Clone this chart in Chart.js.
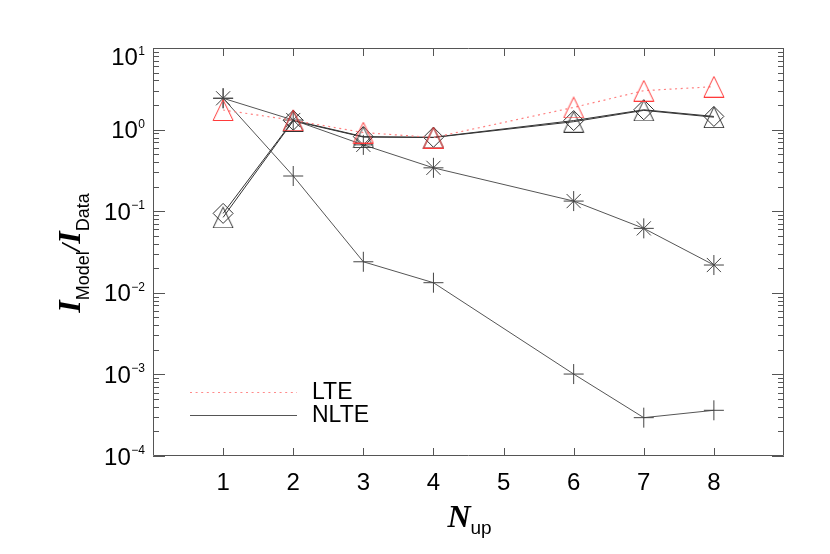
<!DOCTYPE html>
<html>
<head>
<meta charset="utf-8">
<script src="https://cdn.jsdelivr.net/npm/chart.js@4"></script>
<style>
html,body{margin:0;padding:0;background:#fff;}
#wrap{position:relative;width:830px;height:554px;}
canvas{position:absolute;left:0;top:0;}
</style>
</head>
<body>
<div id="wrap"><canvas id="c" width="830" height="554"></canvas></div>
<script>
// ---- data ----
const nUp = [1, 2, 3, 4, 6, 7, 8];
const xTicks = [1, 2, 3, 4, 5, 6, 7, 8];
const yExponents = [1, 0, -1, -2, -3, -4];
const lteTriangle  = [1.74, 1.30, 0.92, 0.80, 1.87, 3.00, 3.36];
const nlteTriangle = [0.084, 1.28, 0.81, 0.80, 1.25, 1.72, 1.42];
const nlteDiamond  = [0.094, 1.30, 0.82, 0.805, 1.29, 1.75, 1.45];
const nlteAsterisk = [2.42, 1.31, 0.65, 0.34, 0.133, 0.0616, 0.0219];
const nltePlus     = [2.42, 0.27, 0.024, 0.0133, 0.00101, 0.000295, 0.000363];
const legendLabels = ['LTE', 'NLTE'];

function pts(vals){ return nUp.map((x,i)=>({x:x, y:vals[i]})); }

function triangleImage(color){
  const c = document.createElement('canvas');
  c.width = 22; c.height = 22;
  const g = c.getContext('2d');
  g.strokeStyle = color; g.lineWidth = 1;
  g.beginPath();
  g.moveTo(11, 0.8); g.lineTo(21, 21.5); g.lineTo(1, 21.5); g.closePath();
  g.stroke();
  return c;
}

const black = '#333333';
const red = '#ff3a3a';

const framePlugin = {
  id: 'frame',
  afterDraw(chart){
    const {ctx, chartArea:{left,right,top,bottom}, scales:{x,y}} = chart;
    ctx.save();
    ctx.strokeStyle = '#555';
    ctx.lineWidth = 1;
    ctx.beginPath();
    ctx.rect(left+0.5, top+0.5, right-left-1, bottom-top-1);
    ctx.stroke();
    // x ticks
    ctx.beginPath();
    xTicks.forEach(v=>{
      const px = Math.round(x.getPixelForValue(v))+0.5;
      ctx.moveTo(px, bottom); ctx.lineTo(px, bottom-8);
      ctx.moveTo(px, top); ctx.lineTo(px, top+8);
    });
    // y ticks
    for (let e=-4; e<=1; e++){
      const py = Math.round(y.getPixelForValue(Math.pow(10,e)))+0.5;
      ctx.moveTo(left, py); ctx.lineTo(left+12, py);
      ctx.moveTo(right, py); ctx.lineTo(right-12, py);
      if (e<1){
        for (let m=2; m<=9; m++){
          const pm = Math.round(y.getPixelForValue(m*Math.pow(10,e)))+0.5;
          ctx.moveTo(left, pm); ctx.lineTo(left+6, pm);
          ctx.moveTo(right, pm); ctx.lineTo(right-6, pm);
        }
      }
    }
    ctx.stroke();

    // x tick labels
    ctx.fillStyle = '#000';
    ctx.font = '24px "Liberation Sans", Arial, sans-serif';
    ctx.textAlign = 'center';
    ctx.textBaseline = 'alphabetic';
    xTicks.forEach(v=>{
      ctx.fillText(String(v), x.getPixelForValue(v), bottom+34);
    });
    // y tick labels
    yExponents.forEach(e=>{
      const py = Math.max(y.getPixelForValue(Math.pow(10,e)), top+8.5);
      const expStr = e<0 ? '\u2212'+Math.abs(e) : String(e);
      ctx.font = '12px "Liberation Sans", Arial, sans-serif';
      const ew = ctx.measureText(expStr).width;
      const xr = left - 8;
      ctx.textAlign = 'left';
      ctx.fillText(expStr, xr-ew, py-2);
      ctx.font = '24px "Liberation Sans", Arial, sans-serif';
      ctx.textAlign = 'right';
      ctx.fillText('10', xr-ew-0.5, py+8.5);
    });

    // legend
    const lx0 = 190, lx1 = 297, ly1 = 392, ly2 = 415;
    ctx.lineWidth = 1.2;
    ctx.strokeStyle = '#ff8a8a';
    ctx.setLineDash([2,3.6]);
    ctx.beginPath(); ctx.moveTo(lx0, ly1+0.5); ctx.lineTo(lx1, ly1+0.5); ctx.stroke();
    ctx.setLineDash([]);
    ctx.strokeStyle = '#555';
    ctx.lineWidth = 1;
    ctx.beginPath(); ctx.moveTo(lx0, ly2+0.5); ctx.lineTo(lx1, ly2+0.5); ctx.stroke();
    ctx.fillStyle = '#000';
    ctx.font = '23px "Liberation Sans", Arial, sans-serif';
    ctx.textAlign = 'left';
    ctx.textBaseline = 'alphabetic';
    ctx.fillText(legendLabels[0], 312, 398.5);
    ctx.fillText(legendLabels[1], 312, 422);

    // x title: N_up
    const cx = (left+right)/2;
    ctx.font = 'italic bold 32px "Liberation Serif", "DejaVu Serif", serif';
    const nw = ctx.measureText('N').width;
    ctx.font = '19px "Liberation Sans", Arial, sans-serif';
    const uw = ctx.measureText('up').width;
    let sx = cx - (nw+uw)/2 + 1;
    ctx.font = 'italic bold 32px "Liberation Serif", "DejaVu Serif", serif';
    ctx.fillText('N', sx, 527);
    ctx.font = '19px "Liberation Sans", Arial, sans-serif';
    ctx.fillText('up', sx+nw, 534);

    // y title
    ctx.save();
    ctx.translate(80, 253);
    ctx.rotate(-Math.PI/2);
    const parts = [
      {t:'I', f:'italic bold 32px "Liberation Serif", "DejaVu Serif", serif', dy:0},
      {t:'Model', f:'18px "Liberation Sans", Arial, sans-serif', dy:9},
      {t:'/', f:'italic bold 27px "Liberation Serif", "DejaVu Serif", serif', dy:0},
      {t:'I', f:'italic bold 32px "Liberation Serif", "DejaVu Serif", serif', dy:0},
      {t:'Data', f:'18px "Liberation Sans", Arial, sans-serif', dy:9}
    ];
    let tw = 0;
    parts.forEach(p=>{ ctx.font=p.f; p.w = ctx.measureText(p.t).width; tw += p.w; });
    let px0 = -tw/2;
    parts.forEach(p=>{ ctx.font=p.f; ctx.fillText(p.t, px0, p.dy); px0 += p.w; });
    ctx.restore();

    ctx.restore();
  }
};

const common = {fill:false, tension:0, pointBackgroundColor:'rgba(0,0,0,0)', pointBorderWidth:1, pointHoverRadius:0};
const redTri = triangleImage(red);
const blackTri = triangleImage(black);

new Chart(document.getElementById('c'), {
  type: 'line',
  data: {
    datasets: [
      Object.assign({}, common, {label:'LTE', data:pts(lteTriangle), borderColor:'#ff8080', borderWidth:1.2, borderDash:[2,3.6], pointStyle:redTri, pointRadius:11}),
      Object.assign({}, common, {label:'NLTE tri', data:pts(nlteTriangle), borderColor:black, borderWidth:1, pointStyle:blackTri, pointRadius:11}),
      Object.assign({}, common, {label:'NLTE dia', data:pts(nlteDiamond), borderColor:black, borderWidth:1, pointStyle:'rectRot', pointRadius:10, pointBorderColor:black}),
      Object.assign({}, common, {label:'NLTE ast', data:pts(nlteAsterisk), borderColor:'#555', borderWidth:1, pointStyle:'star', pointRadius:10, pointBorderColor:'#444'}),
      Object.assign({}, common, {label:'NLTE plus', data:pts(nltePlus), borderColor:'#555', borderWidth:1, pointStyle:'cross', pointRadius:10, pointBorderColor:'#444'})
    ]
  },
  options: {
    responsive:false,
    animation:false,
    events:[],
    layout:{padding:{left:153, right:46, top:48, bottom:98}},
    plugins:{legend:{display:false}, tooltip:{enabled:false}},
    scales:{
      x:{type:'linear', min:0, max:9, ticks:{display:false}, grid:{display:false}, border:{display:false}, afterFit:s=>{s.height=0;}},
      y:{type:'logarithmic', min:1e-4, max:10, ticks:{display:false}, grid:{display:false}, border:{display:false}, afterFit:s=>{s.width=0;}}
    }
  },
  plugins:[framePlugin]
});
</script>
</body>
</html>
